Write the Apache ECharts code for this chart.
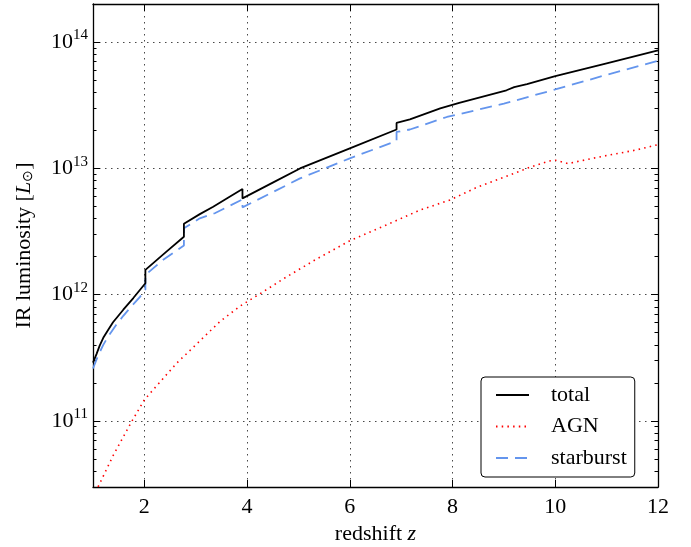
<!DOCTYPE html>
<html><head><meta charset="utf-8">
<script src="https://cdn.jsdelivr.net/npm/echarts@6/dist/echarts.min.js"></script>
<style>html,body{margin:0;padding:0;background:#fff}#c{width:691px;height:547px}</style>
</head><body><div id="c"></div>
<script>
// ---- data ----
const zTotal = [1.0, 1.07, 1.13, 1.2, 1.3, 1.39, 1.59, 1.785, 2.02, 2.02, 2.43, 2.77, 2.77, 3.08, 3.34, 3.66, 3.91, 3.91, 4.5, 5.03, 6.0, 6.91, 6.91, 7.17, 7.76, 8.13, 9.05, 9.2, 9.45, 10.0, 11.0, 12.0];
const vTotal = [2.9e11, 3.4e11, 3.95e11, 4.55e11, 5.3e11, 6.05e11, 7.6e11, 9.4e11, 1.23e12, 1.57e12, 2.19e12, 2.87e12, 3.64e12, 4.34e12, 4.97e12, 5.96e12, 6.86e12, 5.78e12, 7.7e12, 9.98e12, 1.44e13, 2.03e13, 2.29e13, 2.44e13, 2.98e13, 3.30e13, 4.15e13, 4.4e13, 4.64e13, 5.36e13, 6.79e13, 8.6e13];

const zAgn = [1.0, 1.136, 1.4, 1.754, 2.0, 2.37, 2.63, 3.0, 3.47, 3.86, 4.29, 4.74, 5.32, 6.0, 6.75, 7.37, 7.95, 8.47, 8.99, 9.48, 9.87, 10.0, 10.25, 10.64, 11.03, 11.55, 12.0];
const vAgn = [2.5e10, 3.23e10, 5.4e10, 9.9e10, 1.47e11, 2.18e11, 2.87e11, 4.0e11, 6.12e11, 8.1e11, 1.04e12, 1.36e12, 1.88e12, 2.67e12, 3.62e12, 4.68e12, 5.61e12, 7.06e12, 8.47e12, 1.01e13, 1.14e13, 1.16e13, 1.09e13, 1.18e13, 1.27e13, 1.39e13, 1.54e13];

const zBurst = [1.0, 1.1, 1.2, 1.3, 1.45, 1.59, 1.76, 1.915, 2.02, 2.02, 2.36, 2.77, 2.77, 3.08, 3.37, 3.91, 3.91, 5.03, 6.0, 6.91, 6.91, 7.17, 7.89, 9.0, 10.0, 11.0, 12.0];
const vBurst = [2.6e11, 3.3e11, 4.0e11, 4.7e11, 5.75e11, 6.8e11, 8.2e11, 9.6e11, 1.1e12, 1.43e12, 1.88e12, 2.45e12, 3.35e12, 4.02e12, 4.41e12, 5.68e12, 4.91e12, 8.32e12, 1.2e13, 1.65e13, 1.94e13, 2.03e13, 2.55e13, 3.25e13, 4.21e13, 5.5e13, 7.1e13];

const seriesNames = ['total', 'AGN', 'starburst'];
const xTicks = [2, 4, 6, 8, 10, 12];
const yMajorTicks = [1e11, 1e12, 1e13, 1e14];
const xRange = [1, 12];
const yRange = [3e10, 2e14];

// ---- chart ----
const chart = echarts.init(document.getElementById('c'), null, { renderer: 'canvas' });
const FONT = '"Liberation Serif", "Times New Roman", serif';
const yMinorTicks = [];
for (let e = 10; e <= 14; e++) for (let m = 2; m <= 9; m++) {
  const v = m * Math.pow(10, e);
  if (v > yRange[0] * 1.0001 && v < yRange[1] * 0.9999) yMinorTicks.push(v);
}
const pairs = (z, v) => z.map((x, i) => [x, v[i]]);
const axisLine = { show: true, onZero: false, lineStyle: { color: '#000', width: 1.3 } };
const gridLine = { show: true, lineStyle: { color: '#333', width: 0.9, type: [1.5, 4.5] } };

function yAx(pos, ticks, len, main) {
  return {
    type: 'log', logBase: 10, min: yRange[0], max: yRange[1], position: pos,
    axisLine: main ? axisLine : { show: false },
    axisTick: { show: true, inside: true, length: len, customValues: ticks, lineStyle: { color: '#000', width: 1 } },
    axisLabel: (main && pos === 'left') ? {
      show: true, customValues: yMajorTicks, margin: 5,
      formatter: v => '{b|10}{s|' + Math.round(Math.log10(v)) + '}',
      rich: {
        b: { fontFamily: FONT, fontSize: 22, color: '#000', lineHeight: 28 },
        s: { fontFamily: FONT, fontSize: 15, color: '#000', verticalAlign: 'top', lineHeight: 16 }
      }
    } : { show: false },
    splitLine: (main && pos === 'left') ? gridLine : { show: false },
    minorTick: { show: false }, minorSplitLine: { show: false }
  };
}
function xAx(pos, main) {
  return {
    type: 'value', min: xRange[0], max: xRange[1], position: pos,
    axisLine: axisLine,
    axisTick: { show: true, inside: true, length: 7, customValues: xTicks, lineStyle: { color: '#000', width: 1 } },
    axisLabel: main ? { show: true, customValues: xTicks, margin: 9, fontFamily: FONT, fontSize: 22, color: '#000' } : { show: false },
    splitLine: main ? gridLine : { show: false },
    name: main ? '{n|redshift }{i|z}' : '',
    nameLocation: 'middle', nameGap: 35,
    nameTextStyle: { rich: {
      n: { fontFamily: FONT, fontSize: 22, color: '#000' },
      i: { fontFamily: FONT, fontSize: 22, color: '#000', fontStyle: 'italic' }
    } }
  };
}
const yAxes = [yAx('left', yMajorTicks, 7, true), yAx('left', yMinorTicks, 3.5, false),
               yAx('right', yMajorTicks, 7, true), yAx('right', yMinorTicks, 3.5, false)];
yAxes[0].name = '{n|IR luminosity [}{i|L}{u|⊙}{n|]}';
yAxes[0].nameLocation = 'middle';
yAxes[0].nameGap = 58;
yAxes[0].nameRotate = 90;
yAxes[0].nameTextStyle = { rich: {
  n: { fontFamily: FONT, fontSize: 22, color: '#000' },
  i: { fontFamily: FONT, fontSize: 22, color: '#000', fontStyle: 'italic' },
  u: { fontFamily: FONT, fontSize: 14, color: '#000', verticalAlign: 'bottom', padding: [6, 0, 0, 0] }
} };

const styles = [
  { color: '#000000', width: 1.8, type: 'solid' },
  { color: '#ff0000', width: 1.6, type: [1.5, 4.2] },
  { color: '#6495ed', width: 1.8, type: [12, 7] }
];
const datasets = [pairs(zTotal, vTotal), pairs(zAgn, vAgn), pairs(zBurst, vBurst)];

chart.setOption({
  animation: false,
  backgroundColor: '#fff',
  grid: { left: 93, right: 33, top: 4, bottom: 60, containLabel: false, outerBoundsMode: 'none' },
  xAxis: [xAx('bottom', true), xAx('top', false)],
  yAxis: yAxes,
  legend: {
    data: seriesNames, orient: 'vertical', left: 481, top: 377,
    padding: [7, 8, 8, 14], itemWidth: 33, itemHeight: 14, itemGap: 9.5,
    borderColor: '#000', borderWidth: 1, borderRadius: 4, backgroundColor: '#fff',
    itemStyle: { opacity: 0, borderWidth: 0 },
    textStyle: { fontFamily: FONT, fontSize: 22, color: '#000', padding: [0, 0, 0, 17] }
  },
  series: seriesNames.map((n, i) => ({
    name: n, type: 'line', xAxisIndex: 0, yAxisIndex: 0, data: datasets[i],
    symbol: 'none', showSymbol: false, smooth: false, clip: true,
    color: styles[i].color, lineStyle: styles[i], itemStyle: { opacity: 0 }, z: 3 - i
  }))
});
</script></body></html>
